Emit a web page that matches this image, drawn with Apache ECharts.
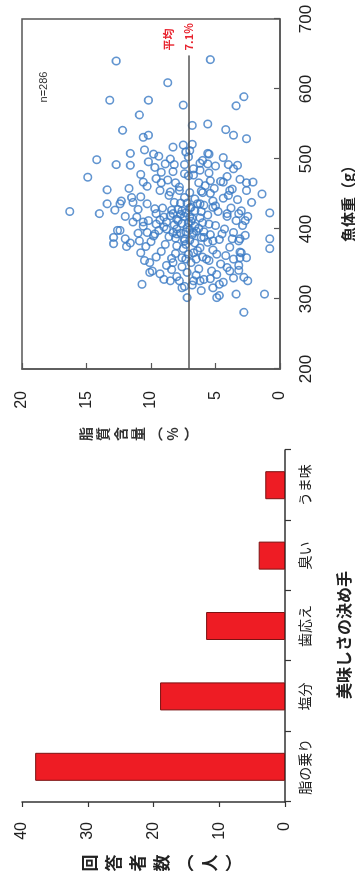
<!DOCTYPE html>
<html>
<head>
<meta charset="utf-8">
<script src="https://cdn.jsdelivr.net/npm/echarts@6/dist/echarts.min.js"></script>
<style>
  html, body { margin: 0; padding: 0; background: #fff; overflow: hidden; }
  /* The figure sheet is laid out landscape and turned a quarter turn */
  #sheet {
    position: absolute; left: 0; top: 0;
    width: 885px; height: 355px;
    transform-origin: 0 0;
    transform: translate(0, 885px) rotate(-90deg);
    background: #fff;
  }
</style>
</head>
<body>
<div id="sheet"></div>
<script>
// Survey: what decides how tasty the fish is (number of respondents)
const tasteFactors = ['脂の乗り', '塩分', '歯応え', '臭い', 'うま味'];
const respondentCounts = [38, 19, 12, 4, 3];

// Fish body weight (g) vs fat content (%) for individual fish
const fishSamples = [
  [640,12.7],[642,5.4],[609,8.7],[584,13.2],[584,10.2],[577,7.5],[589,2.8],[576,3.4],[563,10.9],[548,6.8],
  [550,5.6],[541,12.2],[542,4.2],[534,3.6],[529,2.6],[531,10.6],[534,10.2],[513,10.5],[517,8.3],[520,7.5],
  [521,6.8],[510,7.3],[508,11.6],[507,9.8],[504,9.4],[499,14.2],[492,12.7],[491,11.6],[496,10.2],[493,8.9],
  [492,8.2],[503,7.1],[494,6.2],[507,5.5],[493,5.6],[492,4.0],[491,3.3],[474,14.9],[481,9.2],[479,7.4],
  [477,6.7],[484,6.2],[469,5.4],[467,4.4],[466,2.6],[467,2.1],[456,13.4],[467,10.6],[466,9.2],[453,8.5],
  [455,7.8],[454,6.1],[455,3.9],[450,1.4],
  [425,16.3],[422,14.0],[436,13.4],[427,12.8],[436,12.4],[445,11.5],[438,11.4],[417,11.1],[436,10.3],[429,9.7],
  [417,9.0],[410,10.6],[407,9.6],[422,8.3],[426,7.6],[436,6.2],[431,5.2],[422,4.1],[422,3.2],[412,2.7],
  [423,0.8],[388,12.9],[386,12.0],[379,12.9],[375,11.9],[398,12.4],[383,10.9],[395,10.3],[393,9.7],[400,8.8],
  [393,8.0],[383,7.4],[395,6.7],[388,5.9],[383,5.2],[393,4.5],[386,3.7],[386,3.1],[386,0.8],[372,0.8],
  [367,3.1],[359,2.6],[359,3.1],[364,4.9],[357,5.7],[357,6.5],[359,7.6],[352,8.3],[355,10.5],[338,10.1],
  [321,10.7],[326,8.5],[316,7.6],[302,7.2],[326,6.7],[326,6.2],[329,5.4],[321,4.7],[340,3.9],[341,3.2],
  [331,2.8],[326,2.5],[307,3.4],[302,4.9],[305,4.7],[307,1.2],[281,2.8],
  [402,7.2],[415,6.8],[428,7.9],[395,8.3],[388,6.1],[420,5.6],[436,6.4],[410,8.8],[398,9.4],[445,7.4],
  [452,6.0],[440,5.2],[425,4.8],[405,5.0],[392,5.4],[380,6.6],[372,7.5],[365,8.1],[378,8.9],[390,9.8],
  [412,10.2],[430,9.1],[448,8.6],[460,7.8],[466,6.3],[458,5.1],[444,4.4],[418,4.1],[400,4.3],[385,4.7],
  [370,5.2],[360,6.0],[352,6.9],[346,7.6],[358,8.4],[368,9.2],[382,10.0],[404,10.6],[422,9.6],[438,8.2],
  [455,9.3],[470,8.7],[476,7.1],[462,5.8],[434,5.9],[416,6.2],[397,6.5],[384,7.0],[376,8.0],[394,7.7],
  [408,7.6],[423,7.3],[431,6.9],[419,8.5],[403,9.0],[389,8.6],[364,7.1],[355,5.5],[343,6.3],[338,7.2],
  [332,8.0],[340,5.3],[350,4.6],[362,4.2],[374,3.9],[395,3.6],[412,3.4],[430,3.8],[448,4.0],[468,4.6],
  [480,5.5],[486,6.7],[492,7.4],[472,9.6],[461,10.3],[446,10.8],[428,11.0],[410,11.4],[394,11.0],[375,10.4],
  [360,9.6],[348,8.8],[336,9.3],[326,7.8],[320,6.8],[328,5.9],[335,4.9],[345,4.1],[357,3.6],[383,3.2],
  [405,2.9],[426,3.0],[442,3.3],[457,3.7],[475,4.1],[490,5.0],[498,6.0],[482,8.3],[466,8.1],[452,7.0],
  [437,7.7],[427,8.4],[413,9.3],[400,8.0],[386,7.4],[369,6.4],[357,7.3],[342,8.4],[334,6.5],[318,7.4],
  [312,6.1],[316,5.2],[324,4.4],[330,3.6],[348,3.2],[366,3.0],[391,2.7],[418,2.5],[438,2.2],[455,2.6],
  [471,3.1],[486,3.6],[502,4.4],[508,5.6],[512,7.0],[500,8.5],[488,9.7],[478,10.8],[458,11.7],[440,12.3],
  [418,12.0],[398,12.6],[380,11.6],[366,10.8],[352,10.1],[340,9.9],[328,9.0],[417,7.0],[426,6.6],[409,6.0],
  [396,5.9],[381,5.6],[373,6.2],[407,5.5],[433,5.0],[451,5.4],[443,6.6],[421,7.7],[411,6.9],[399,7.0],
  [387,8.1],[406,8.2],[392,6.8],[378,7.3],[366,6.7],
  [418,7.4],[404,6.6],[430,7.0],[412,7.9],[396,7.3],[425,6.1],[409,7.1],[437,7.2],[401,6.3],[414,8.0]
];
const meanFat = 7.1;          // mean fat content (%)
const meanLineFromWeight = 200;
const meanLineToWeight = 648;
const sampleCountLabel = 'n=' + fishSamples.length;

const latinFont = '"Liberation Sans", Arial, sans-serif';
const cjkFont = '"Noto Sans CJK JP", "Noto Sans", sans-serif';
const inkColor = '#222';
const frameColor = '#555';

const chart = echarts.init(document.getElementById('sheet'), null, {
  renderer: 'canvas', width: 885, height: 355
});

chart.setOption({
  animation: false,
  backgroundColor: '#fff',
  grid: [
    { left: 83, top: 22, width: 352, height: 263, show: false },
    { left: 516, top: 22, width: 350, height: 258, show: true,
      borderColor: frameColor, borderWidth: 1.5, backgroundColor: 'transparent' }
  ],
  xAxis: [
    {
      type: 'category', gridIndex: 0, data: tasteFactors,
      axisLine: { lineStyle: { color: '#333', width: 1.5 } },
      axisTick: { show: true, length: 6, lineStyle: { color: '#333', width: 1.2 } },
      axisLabel: { interval: 0, color: inkColor, fontSize: 14, fontFamily: cjkFont, margin: 13 }
    },
    {
      type: 'value', gridIndex: 1, min: 200, max: 700, interval: 100,
      axisLine: { show: true, lineStyle: { color: frameColor, width: 1.5 } },
      axisTick: { show: true, inside: true, length: 6, lineStyle: { color: frameColor, width: 1.2 } },
      splitLine: { show: false },
      axisLabel: { color: inkColor, fontSize: 17, fontFamily: latinFont, margin: 18 }
    }
  ],
  yAxis: [
    {
      type: 'value', gridIndex: 0, min: 0, max: 40, interval: 10,
      axisLine: { show: true, lineStyle: { color: '#333', width: 1.5 } },
      axisTick: { show: true, length: 5, lineStyle: { color: '#333', width: 1.2 } },
      splitLine: { show: false },
      axisLabel: { color: inkColor, fontSize: 16, fontFamily: latinFont, margin: 20 }
    },
    {
      type: 'value', gridIndex: 1, min: 0, max: 20, interval: 5,
      axisLine: { show: true, lineStyle: { color: frameColor, width: 1.5 } },
      axisTick: { show: true, inside: true, length: 6, lineStyle: { color: frameColor, width: 1.2 } },
      splitLine: { show: false },
      axisLabel: { color: inkColor, fontSize: 16, fontFamily: latinFont, margin: 22 }
    }
  ],
  series: [
    {
      type: 'bar', xAxisIndex: 0, yAxisIndex: 0,
      data: respondentCounts, barWidth: 28,
      itemStyle: { color: '#ee1c24', borderColor: '#7a1212', borderWidth: 1 }
    },
    {
      type: 'scatter', xAxisIndex: 1, yAxisIndex: 1,
      data: fishSamples, symbol: 'circle', symbolSize: 7.5,
      itemStyle: { color: 'rgba(0,0,0,0)', borderColor: '#3b7bc4', borderWidth: 1.6 },
      markLine: {
        silent: true, symbol: 'none',
        lineStyle: { color: frameColor, width: 1.5, type: 'solid' },
        label: {
          show: true, position: 'end', distance: 5,
          // third (blank) line keeps the value line level with the mean line
          formatter: '平均\n' + meanFat + '%\n ',
          color: '#e8232e', fontSize: 11, fontWeight: 'bold',
          fontFamily: cjkFont, lineHeight: 20
        },
        data: [[
          { coord: [meanLineFromWeight, meanFat] },
          { coord: [meanLineToWeight, meanFat] }
        ]]
      }
    }
  ],
  graphic: [
    { type: 'text', x: 22, y: 162,
      style: { text: '回\n答\n者\n数\n︵\n人\n︶', fill: inkColor,
        font: 'bold 17px "Noto Sans CJK JP"', lineHeight: 24,
        align: 'center', verticalAlign: 'middle' } },
    { type: 'text', x: 250, y: 344,
      style: { text: '美味しさの決め手', fill: inkColor,
        font: 'bold 16px "Noto Sans CJK JP"',
        align: 'center', verticalAlign: 'middle' } },
    { type: 'text', x: 451, y: 138,
      style: { text: '脂\n質\n含\n量\n︵\n%\n︶', fill: '#333',
        font: 'bold 14px "Noto Sans CJK JP"', lineHeight: 17.5,
        align: 'center', verticalAlign: 'middle' } },
    { type: 'text', x: 685, y: 348,
      style: { text: '魚体重（g）', fill: inkColor,
        font: 'bold 15px "Noto Sans CJK JP"',
        align: 'center', verticalAlign: 'middle' } },
    { type: 'text', x: 798, y: 44,
      style: { text: sampleCountLabel, fill: '#333',
        font: '11px "Liberation Sans", Arial, sans-serif',
        align: 'center', verticalAlign: 'middle' } }
  ]
});
</script>
</body>
</html>
